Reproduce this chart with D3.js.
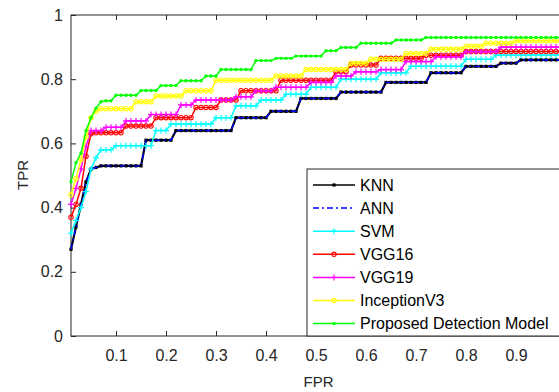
<!DOCTYPE html>
<html>
<head>
<meta charset="utf-8">
<script src="https://cdn.jsdelivr.net/npm/d3@7"></script>
<style>
  body { margin: 0; background: #fff; }
  text { font-family: "Liberation Sans", Arial, sans-serif; }
</style>
</head>
<body>
<div id="chart"></div>
<script>
//Chart data (TPR at every FPR step)
var fpr = [0.01,0.02,0.03,0.04,0.05,0.06,0.07,0.08,0.09,0.10,
  0.11,0.12,0.13,0.14,0.15,0.16,0.17,0.18,0.19,0.20,
  0.21,0.22,0.23,0.24,0.25,0.26,0.27,0.28,0.29,0.30,
  0.31,0.32,0.33,0.34,0.35,0.36,0.37,0.38,0.39,0.40,
  0.41,0.42,0.43,0.44,0.45,0.46,0.47,0.48,0.49,0.50,
  0.51,0.52,0.53,0.54,0.55,0.56,0.57,0.58,0.59,0.60,
  0.61,0.62,0.63,0.64,0.65,0.66,0.67,0.68,0.69,0.70,
  0.71,0.72,0.73,0.74,0.75,0.76,0.77,0.78,0.79,0.80,
  0.81,0.82,0.83,0.84,0.85,0.86,0.87,0.88,0.89,0.90,
  0.91,0.92,0.93,0.94,0.95,0.96,0.97,0.98,0.99,1.00];

var knn = [0.27,0.34,0.41,0.48,0.52,0.525,0.53,0.53,0.53,0.53,
  0.53,0.53,0.53,0.53,0.53,0.61,0.61,0.61,0.61,0.61,
  0.61,0.64,0.64,0.64,0.64,0.64,0.64,0.64,0.64,0.64,
  0.64,0.64,0.64,0.68,0.68,0.68,0.68,0.68,0.68,0.68,
  0.70,0.70,0.70,0.70,0.70,0.70,0.74,0.74,0.74,0.74,
  0.74,0.74,0.74,0.74,0.76,0.76,0.76,0.76,0.76,0.76,
  0.76,0.76,0.76,0.79,0.79,0.79,0.79,0.79,0.79,0.79,
  0.79,0.79,0.82,0.82,0.82,0.82,0.82,0.82,0.82,0.84,
  0.84,0.84,0.84,0.84,0.84,0.84,0.85,0.85,0.85,0.85,
  0.86,0.86,0.86,0.86,0.86,0.86,0.86,0.86,0.86,0.86];

var ann = [0.27,0.34,0.41,0.48,0.52,0.525,0.53,0.53,0.53,0.53,
  0.53,0.53,0.53,0.53,0.53,0.61,0.61,0.61,0.61,0.61,
  0.61,0.64,0.64,0.64,0.64,0.64,0.64,0.64,0.64,0.64,
  0.64,0.64,0.64,0.68,0.68,0.68,0.68,0.68,0.68,0.68,
  0.70,0.70,0.70,0.70,0.70,0.70,0.74,0.74,0.74,0.74,
  0.74,0.74,0.74,0.74,0.76,0.76,0.76,0.76,0.76,0.76,
  0.76,0.76,0.76,0.79,0.79,0.79,0.79,0.79,0.79,0.79,
  0.79,0.79,0.82,0.82,0.82,0.82,0.82,0.82,0.82,0.84,
  0.84,0.84,0.84,0.84,0.84,0.84,0.85,0.85,0.85,0.85,
  0.86,0.86,0.86,0.86,0.86,0.86,0.86,0.86,0.86,0.86];

var svm = [0.32,0.36,0.40,0.45,0.52,0.555,0.58,0.58,0.58,0.593,
  0.593,0.593,0.593,0.593,0.593,0.593,0.593,0.64,0.64,0.64,
  0.66,0.66,0.66,0.66,0.66,0.66,0.66,0.66,0.66,0.68,
  0.68,0.68,0.68,0.717,0.717,0.717,0.717,0.717,0.735,0.735,
  0.735,0.735,0.735,0.753,0.753,0.753,0.753,0.753,0.775,0.775,
  0.775,0.775,0.775,0.775,0.80,0.80,0.80,0.80,0.80,0.80,
  0.80,0.80,0.82,0.82,0.82,0.82,0.82,0.82,0.84,0.84,
  0.84,0.84,0.84,0.84,0.84,0.84,0.84,0.84,0.84,0.862,
  0.862,0.862,0.862,0.862,0.862,0.875,0.875,0.875,0.875,0.875,
  0.875,0.875,0.875,0.875,0.875,0.875,0.875,0.875,0.875,0.875];

var vgg16 = [0.37,0.41,0.46,0.56,0.63,0.633,0.633,0.633,0.633,0.633,
  0.633,0.654,0.654,0.654,0.654,0.654,0.654,0.68,0.68,0.68,
  0.68,0.68,0.68,0.68,0.68,0.712,0.712,0.712,0.712,0.712,
  0.735,0.735,0.735,0.735,0.764,0.764,0.764,0.764,0.764,0.764,
  0.764,0.764,0.797,0.797,0.797,0.797,0.797,0.797,0.797,0.797,
  0.797,0.797,0.797,0.823,0.823,0.823,0.844,0.844,0.844,0.844,
  0.844,0.844,0.865,0.865,0.865,0.865,0.865,0.865,0.865,0.865,
  0.865,0.875,0.875,0.875,0.875,0.875,0.875,0.875,0.875,0.886,
  0.886,0.886,0.886,0.886,0.886,0.886,0.886,0.886,0.886,0.886,
  0.886,0.886,0.886,0.886,0.886,0.886,0.886,0.886,0.886,0.886];

var vgg19 = [0.41,0.46,0.52,0.59,0.64,0.64,0.64,0.65,0.65,0.65,
  0.65,0.67,0.67,0.67,0.67,0.67,0.69,0.69,0.69,0.69,
  0.69,0.69,0.72,0.72,0.72,0.735,0.735,0.735,0.735,0.735,
  0.735,0.735,0.735,0.745,0.745,0.745,0.745,0.764,0.764,0.764,
  0.764,0.775,0.775,0.775,0.775,0.775,0.775,0.775,0.79,0.79,
  0.79,0.79,0.79,0.81,0.81,0.81,0.81,0.823,0.823,0.823,
  0.823,0.823,0.83,0.83,0.83,0.83,0.83,0.855,0.855,0.855,
  0.855,0.855,0.855,0.87,0.87,0.87,0.87,0.87,0.87,0.886,
  0.886,0.886,0.886,0.886,0.886,0.886,0.90,0.90,0.90,0.90,
  0.90,0.90,0.90,0.90,0.90,0.90,0.90,0.90,0.90,0.90];

var inceptionV3 = [0.44,0.49,0.55,0.62,0.68,0.70,0.708,0.708,0.708,0.708,
  0.708,0.708,0.708,0.73,0.73,0.73,0.73,0.748,0.748,0.748,
  0.748,0.748,0.748,0.764,0.764,0.764,0.764,0.764,0.764,0.797,
  0.797,0.797,0.797,0.797,0.797,0.797,0.797,0.797,0.797,0.797,
  0.797,0.81,0.81,0.81,0.81,0.81,0.81,0.83,0.83,0.83,
  0.83,0.83,0.83,0.83,0.83,0.83,0.85,0.85,0.85,0.85,
  0.862,0.862,0.862,0.862,0.862,0.862,0.862,0.88,0.88,0.88,
  0.88,0.88,0.893,0.893,0.893,0.893,0.893,0.893,0.893,0.903,
  0.903,0.903,0.903,0.912,0.912,0.912,0.912,0.912,0.912,0.92,
  0.92,0.92,0.92,0.92,0.92,0.92,0.92,0.92,0.92,0.92];

var proposed = [0.48,0.54,0.57,0.64,0.68,0.71,0.73,0.733,0.733,0.75,
  0.75,0.75,0.75,0.75,0.765,0.765,0.765,0.765,0.78,0.78,
  0.78,0.78,0.795,0.795,0.795,0.795,0.795,0.81,0.81,0.81,
  0.83,0.83,0.83,0.83,0.83,0.83,0.83,0.858,0.858,0.858,
  0.858,0.865,0.865,0.865,0.865,0.872,0.872,0.872,0.872,0.872,
  0.872,0.889,0.889,0.889,0.899,0.899,0.899,0.899,0.912,0.912,
  0.912,0.912,0.912,0.912,0.912,0.922,0.922,0.922,0.922,0.922,
  0.922,0.93,0.93,0.93,0.93,0.93,0.93,0.93,0.93,0.93,
  0.93,0.93,0.93,0.93,0.93,0.93,0.93,0.93,0.93,0.93,
  0.93,0.93,0.93,0.93,0.93,0.93,0.93,0.93,0.93,0.93];

var seriesNames = ["KNN", "ANN", "SVM", "VGG16", "VGG19", "InceptionV3", "Proposed Detection Model"];
var seriesValues = [knn, ann, svm, vgg16, vgg19, inceptionV3, proposed];

//Tick at 1 sits past the right edge of the picture, so it is left out
var xTicks = [0.1, 0.2, 0.3, 0.4, 0.5, 0.6, 0.7, 0.8, 0.9];
var xTickLabels = ["0.1", "0.2", "0.3", "0.4", "0.5", "0.6", "0.7", "0.8", "0.9"];
var yTicks = [0, 0.2, 0.4, 0.6, 0.8, 1];
var yTickLabels = ["0", "0.2", "0.4", "0.6", "0.8", "1"];

//Line styles (MATLAB-like)
var seriesStyles = [
  {color: "#000000", width: 2.2, dash: null, marker: "square"},
  {color: "#0000ff", width: 1.4, dash: "6,3,2,3", marker: "none"},
  {color: "#00ffff", width: 1.5, dash: null, marker: "plus"},
  {color: "#ff0000", width: 1.5, dash: null, marker: "circle"},
  {color: "#ff00ff", width: 1.5, dash: null, marker: "plus"},
  {color: "#ffff00", width: 1.5, dash: null, marker: "circle"},
  {color: "#00ff00", width: 1.5, dash: null, marker: "dot"}
];

//Define SVG area
var svgWidth = 559;
var svgHeight = 392;
var axisColor = "#262626";

var svg = d3.select("#chart")
  .append("svg")
  .attr("width", svgWidth)
  .attr("height", svgHeight);

//Scales (x axis runs past the right edge of the picture)
var xScale = d3.scaleLinear()
  .domain([0.01, 1])
  .range([71, 566]);

var yScale = d3.scaleLinear()
  .domain([0, 1])
  .range([336, 15]);

//Axes with inward ticks
var bottomAxis = d3.axisBottom(xScale)
  .tickValues(xTicks)
  .tickFormat((d, i) => xTickLabels[i])
  .tickSizeInner(-5)
  .tickSizeOuter(0)
  .tickPadding(14);

var topAxis = d3.axisTop(xScale)
  .tickValues(xTicks)
  .tickFormat("")
  .tickSizeInner(-5)
  .tickSizeOuter(0);

var leftAxis = d3.axisLeft(yScale)
  .tickValues(yTicks)
  .tickFormat((d, i) => yTickLabels[i])
  .tickSizeInner(-5)
  .tickSizeOuter(0)
  .tickPadding(8);

[
  [bottomAxis, "translate(0, 336)"],
  [topAxis, "translate(0, 15)"],
  [leftAxis, "translate(71, 0)"]
].forEach(function(a) {
  var g = svg.append("g")
    .attr("transform", a[1])
    .attr("color", axisColor)
    .call(a[0]);
  g.select(".domain").remove();
  g.selectAll("text")
    .attr("font-size", 16)
    .attr("font-family", "Liberation Sans, Arial, sans-serif")
    .attr("fill", axisColor);
});

//Plot box
svg.append("rect")
  .attr("x", xScale(0.01))
  .attr("y", yScale(1))
  .attr("width", xScale(1) - xScale(0.01))
  .attr("height", yScale(0) - yScale(1))
  .attr("fill", "none")
  .attr("stroke", axisColor)
  .attr("stroke-width", 1);

//Marker helper
function drawMarker(g, type, cx, cy, color) {
  if (type === "square") {
    g.append("rect")
      .attr("x", cx - 1.6).attr("y", cy - 1.6)
      .attr("width", 3.2).attr("height", 3.2)
      .attr("fill", color);
  } else if (type === "plus") {
    g.append("path")
      .attr("d", `M${cx - 3},${cy}H${cx + 3}M${cx},${cy - 3}V${cy + 3}`)
      .attr("stroke", color)
      .attr("stroke-width", 1.2);
  } else if (type === "circle") {
    g.append("circle")
      .attr("cx", cx).attr("cy", cy).attr("r", 2.2)
      .attr("fill", "none")
      .attr("stroke", color)
      .attr("stroke-width", 1.1);
  } else if (type === "dot") {
    g.append("circle")
      .attr("cx", cx).attr("cy", cy).attr("r", 1.7)
      .attr("fill", color);
  }
}

//Curves
var line = d3.line()
  .x((d, i) => xScale(fpr[i]))
  .y(d => yScale(d));

seriesValues.forEach(function(values, s) {
  var st = seriesStyles[s];
  var g = svg.append("g");
  g.append("path")
    .attr("d", line(values))
    .attr("fill", "none")
    .attr("stroke", st.color)
    .attr("stroke-width", st.width)
    .attr("stroke-dasharray", st.dash);
  values.forEach(function(v, i) {
    drawMarker(g, st.marker, xScale(fpr[i]), yScale(v), st.color);
  });
});

//Legend
var legend = svg.append("g");
legend.append("rect")
  .attr("x", 307)
  .attr("y", 169)
  .attr("width", 258)
  .attr("height", 167)
  .attr("fill", "#fff")
  .attr("stroke", axisColor)
  .attr("stroke-width", 1);

seriesNames.forEach(function(name, s) {
  var st = seriesStyles[s];
  var ly = 185 + s * 23.1;
  legend.append("line")
    .attr("x1", 313).attr("x2", 355)
    .attr("y1", ly).attr("y2", ly)
    .attr("stroke", st.color)
    .attr("stroke-width", 1.5)
    .attr("stroke-dasharray", st.dash);
  drawMarker(legend, st.marker, 334, ly, st.color);
  legend.append("text")
    .attr("x", 360)
    .attr("y", ly)
    .attr("dy", "0.35em")
    .attr("font-size", 16)
    .attr("fill", "#000")
    .text(name);
});

//Axis labels
svg.append("text")
  .attr("x", 318.5)
  .attr("y", 387)
  .attr("text-anchor", "middle")
  .attr("font-size", 15)
  .attr("fill", axisColor)
  .text("FPR");

svg.append("text")
  .attr("transform", "translate(28, 175) rotate(-90)")
  .attr("text-anchor", "middle")
  .attr("font-size", 15)
  .attr("fill", axisColor)
  .text("TPR");
</script>
</body>
</html>
